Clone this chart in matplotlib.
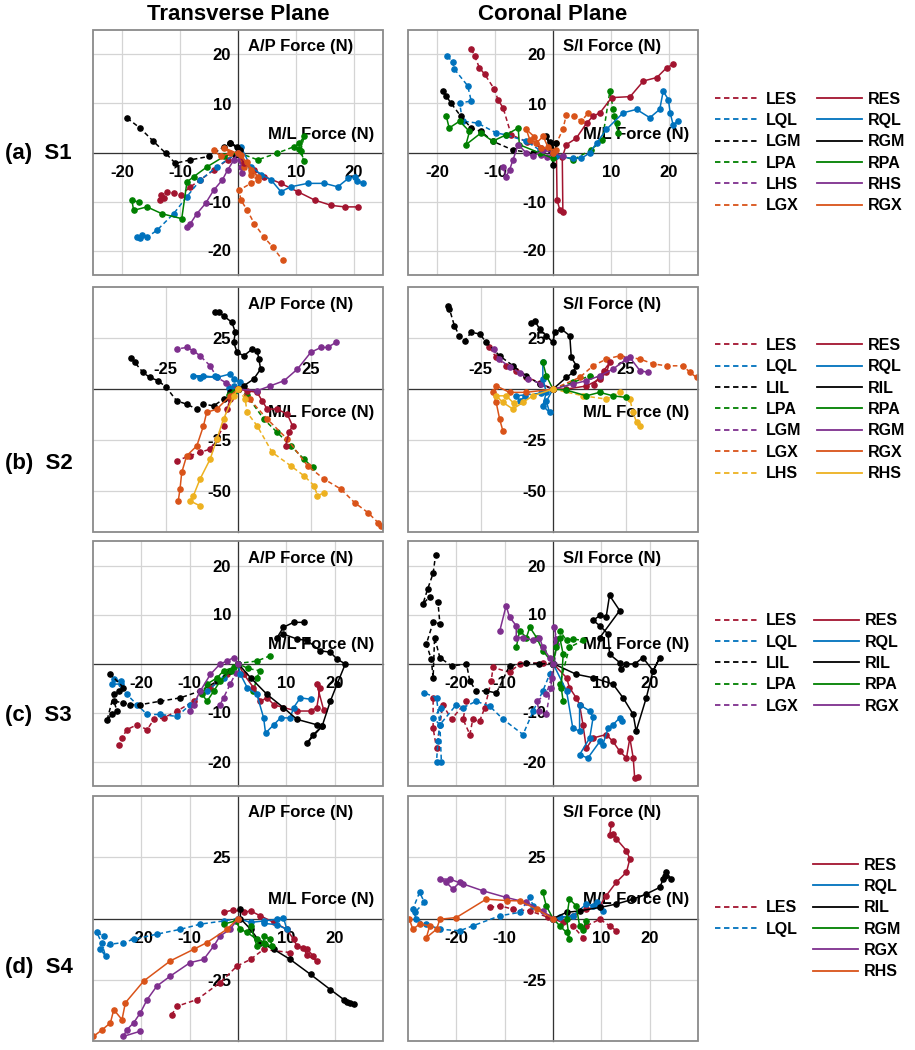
import matplotlib.pyplot as plt
from matplotlib.lines import Line2D
from matplotlib.patches import Rectangle

plt.rcParams['font.family'] = ['Liberation Sans', 'DejaVu Sans']
plt.rcParams['font.weight'] = 'bold'
plt.rcParams['axes.unicode_minus'] = False

RED = '#A2142F'
BLUE = '#0072BD'
BLACK = '#000000'
GREEN = '#008000'
PURPLE = '#7E2F8E'
ORANGE = '#D95319'
YELLOW = '#EDB120'

# ---------------- S1 transverse (M/L vs A/P)
s1t_les = [(0, 0), (-1.8, -1.5), (-4.2, -3.6), (-6.5, -5.6), (-8.2, -7), (-9.9, -8.7), (-11, -8.3), (-12.3, -8), (-13.4, -9.7), (-12.8, -9.2), (-13.2, -8.6)]
s1t_res = [(0, 0), (1, -2.2), (2.8, -3.6), (4.5, -4.9), (7.4, -6.3), (10.3, -8), (13.2, -9.7), (16.1, -10.8), (18.4, -11.1), (20.7, -11.1)]
s1t_lql = [(0, 0), (-3.6, -2.9), (-6.5, -5.6), (-8.8, -9), (-11.1, -12.5), (-14, -15.9), (-15.7, -17.3), (-16.5, -16.8), (-17.5, -17.3), (-16.9, -17.5)]
s1t_rql = [(0, 0), (0.5, 1.2), (2.2, -2.9), (4, -4.5), (5.7, -5.6), (7.4, -8), (9.1, -7), (12, -6.3), (14.9, -6.3), (17.2, -7), (19, -5.3), (20.1, -4.9), (20.6, -5.8), (21.6, -6.3)]
s1t_lgm = [(0, 1), (-1.3, 1.9), (-2.4, 1.2), (-5, -0.8), (-8.2, -1.5), (-10.8, -2.2), (-12.5, -0.1), (-14.6, 2.3), (-16.9, 5), (-19.2, 7.1)]
s1t_rgm = [(0, 0), (-0.1, 1.2), (-1.3, 1.9), (0.3, 0.6), (-0.5, -0.5)]
s1t_lpa = [(0, 0), (3.4, -1.5), (6.8, -0.1), (9.7, 1.2), (10.6, 1.9), (11.4, 3.3), (10.8, 0.4), (11.4, -1.8), (10.5, 0.8)]
s1t_rpa = [(0, 0), (-2.4, -0.8), (-5.3, -2.9), (-7.6, -4.9), (-8.8, -6), (-9.7, -13.5), (-13.1, -12.5), (-15.7, -11.1), (-18, -11.8), (-18.3, -9.7), (-17, -10.2)]
s1t_lhs = [(0, 0), (0.3, -1.5), (0.5, -2.9), (0.75, -4.2)]
s1t_rhs = [(0, 0), (-0.7, -1.5), (-1.8, -3.6), (-2.7, -5.6), (-4.2, -7.7), (-5.6, -10.4), (-7.1, -12.5), (-8.2, -14.5), (-8.8, -15.2)]
s1t_lgx = [(0, 0), (1, -2.9), (2.2, -4.5), (3.4, -5.6), (2.2, -6.3), (0.2, -7.7), (0.5, -9.7), (1.6, -11.8), (2.8, -14.5), (4.5, -17.3), (6, -19.3), (7.7, -22)]
s1t_rgx = [(-4.2, 0.5), (-3, -0.8), (-1.3, -0.1), (-2.5, 1), (0.5, -0.5), (2.2, -3.6), (3.4, -4.9), (1.5, -2), (0, 0)]

# ---------------- S1 coronal (M/L vs S/I)
s1c_les = [(-14.1, 21.1), (-13.5, 19.7), (-12.7, 17.3), (-11.8, 16), (-10.1, 12.9), (-9.5, 10.8), (-8.6, 9.1), (-7.2, 3.6), (-4.5, 2.2), (-2, 1), (0, 0)]
s1c_res = [(0, 0), (0.6, -0.8), (0.7, -9.7), (1.2, -11.8), (1.7, -12.1), (1.6, -1), (2.3, 1.6), (4, 2.9), (5.8, 6), (6.9, 7.4), (8.1, 8.1), (10.1, 11.2), (13.3, 11.4), (15.6, 14.6), (17.9, 15.3), (19.6, 17.3), (20.7, 18)]
s1c_lql = [(-18.2, 19.7), (-17.3, 18.4), (-17, 17), (-14.7, 13.6), (-14.1, 10.5), (-16.1, 10.1), (-15.6, 6.4), (-13, 6), (-9.8, 4), (-8.1, 3.6), (-4.6, 2.3), (-2.3, 0.5), (0, 0)]
s1c_rql = [(0, 0), (0.6, -0.8), (3.5, -1.2), (4.9, -1.2), (6.3, -0.1), (7.5, 1.9), (9.2, 4.7), (12.1, 8.1), (14.4, 8.8), (16.7, 7.1), (18.4, 8.8), (19, 12.5), (19.9, 10.8), (20.2, 8.1), (20.7, 5.7), (21.6, 6.4)]
s1c_lgm = [(-19, 12.5), (-18.4, 11.5), (-17.6, 10.1), (-15.9, 7.4), (-14.1, 5), (-12.4, 4.3), (-10.4, 2.3), (-6.9, 0.5), (-3.5, -0.1), (0, 0)]
s1c_rgm = [(0, 0), (-1.2, 3.3), (-0.6, 2.2), (-0.3, 0.8), (0, -2.5), (0.6, 1.9), (-0.5, 1.2)]
s1c_lpa = [(0, 0), (3.5, -1.5), (6.5, 0.5), (8.5, 2.5), (9.8, 12.5), (10.4, 8.8), (11, 6), (11.2, 4), (10.5, 7.5)]
s1c_rpa = [(-18.4, 7.4), (-17.9, 5), (-16.1, 6.4), (-14.4, 4.3), (-15, 1.6), (-12.4, 4), (-10.4, 2.3), (-8.1, 3.6), (-6, 5), (-5.8, 1.6), (-2.3, -0.1), (0, -1.2)]
s1c_lhs = [(0, 0), (-1, -1), (-2, -0.5)]
s1c_rhs = [(1.7, -0.8), (0, 0), (-1.7, 0.5), (-3.5, -0.8), (-4.6, -0.1), (-6, 1.6), (-6.9, -1.5), (-7.5, -3.6), (-8.1, -4.9), (-8.6, -2.9)]
s1c_lgx = [(0, 0), (0.6, 1.9), (1.7, 4.7), (2.3, 7.7), (3.7, 7.4), (4.9, 6.4), (6.1, 8.1)]
s1c_rgx = [(0, 0), (-0.9, 1.2), (-1.7, 3.3), (-2.9, 1.9), (-4, 2.6), (-4.6, 4.7), (-3.2, 3.2), (-2, 1), (0.6, 0.5)]

# ---------------- S2 transverse
s2t_les = [(0, 0), (-2.7, -4.9), (-3.8, -9.8), (-5, -18), (-7.3, -24.5), (-9.6, -29.4), (-13.1, -31), (-16.6, -32.7), (-21.2, -35.1)]
s2t_res = [(0, 0), (3.1, -0.8), (6.6, -1.6), (8.3, -5.7), (10.1, -9.8), (13.5, -9.8), (17, -12.3), (18.8, -18), (17.6, -21.2), (16.4, -27.8)]
s2t_lql = [(0, 0), (-1.5, 1.5), (-3, 0.5), (-1, -1)]
s2t_rql = [(0, 0), (0.8, 3.3), (-1.5, 4.9), (-2.7, 7.4), (-7.3, 5.7), (-11.9, 6.5), (-15.4, 6.5), (-13, 5.5), (-8, 6.3)]
s2t_lil = [(0, 0), (-2.7, -1.6), (-5, -4.9), (-8.4, -8.2), (-11.9, -7.4), (-14.2, -9.8), (-17.7, -7.4), (-21.2, -5.7), (-24.7, 0.8), (-27.5, 4.1), (-30.4, 5.7), (-32.8, 8.2), (-35.6, 13.1), (-36.8, 15)]
s2t_ril = [(0, 0), (2, 1.6), (5.4, 4.9), (7.8, 9.8), (7.2, 14.7), (6.6, 18.8), (4.9, 19.6), (2, 16.3), (-0.3, 18), (-1.5, 22.9), (-0.9, 27.8), (-2.1, 32.7), (-5, 35.9), (-6.7, 37.6), (-7.9, 37.6)]
s2t_lpa = [(0, 0), (3, -3), (8.9, -14.7), (13.5, -21.2), (18.2, -27.8), (22.8, -34.3), (25.7, -38.4)]
s2t_rpa = [(0, 0), (-1.5, -1.5), (-3, -3), (-2, -2.5)]
s2t_lgm = [(0, 0), (-4, 3), (-7.3, 5.7), (-9.6, 11.4), (-13.1, 16.3), (-15.4, 18.8), (-17.7, 20.4), (-21.2, 19.6)]
s2t_rgm = [(0, 0), (6.6, -0.8), (11.2, 1.6), (15.9, 4.1), (20.5, 9.8), (25.1, 18), (28.6, 20.4), (30.9, 20.4), (33.8, 22.9)]
s2t_lgx = [(0, 0), (4, -5), (10.1, -14.7), (17, -24.5), (24, -37.6), (29.7, -44.1), (35.5, -49), (40.2, -55.6), (44.8, -60.5), (48.3, -65.4), (49.4, -67)]
s2t_rgx = [(0, 0), (-2.7, -3.3), (-7.3, -9.8), (-10.8, -11.4), (-11.9, -18), (-14.2, -27.8), (-17.7, -32.7), (-19.4, -40.8), (-20, -49), (-20.6, -54.7)]
s2t_lhs = [(0, 0), (2.5, -4.9), (3.1, -11.4), (6.6, -18), (11.8, -31), (18.2, -37.6), (22.8, -42.5), (26.3, -47.4), (27.4, -52.3), (29.7, -50.7)]
s2t_rhs = [(0, 0), (-1.5, -3.3), (-5, -14.7), (-7.3, -24.5), (-9.6, -34.3), (-13.1, -44.1), (-15.4, -52.3), (-16.6, -54.7), (-13.1, -57.2)]

# ---------------- S2 coronal
s2c_les = [(-21.9, 20.4), (-19.6, 15.5), (-16.1, 11.4), (-12.7, 9), (-9.2, 6), (-4.6, 3), (0, 0)]
s2c_res = [(0, 0), (4.6, 0), (11.5, 1.5), (16.1, 4.9), (18.4, 8.2), (19.6, 13.1), (17.5, 9), (14, 2)]
s2c_lql = [(0, 0), (-4, -2), (-12.7, -3.3), (-11.5, -5.7), (-9.5, -3.5)]
s2c_rql = [(-3.5, 13.1), (-3.5, 4.9), (-2.3, -1.6), (-3.5, -8.2), (-1.2, -11.4), (-2.3, -6), (0, 0)]
s2c_lil = [(-36.3, 40.8), (-35.7, 39.2), (-34, 31), (-32.3, 26.1), (-30.5, 23.7), (-28.2, 27.8), (-25.3, 27), (-23, 22.9), (-18.4, 16.3), (-13.8, 11.4), (-9.2, 6.5), (-4.6, 2.5), (0, 0)]
s2c_ril = [(0, 0), (4.6, 5.7), (6.9, 8.2), (8.1, 11.4), (6.3, 15.5), (5.8, 26.1), (2.9, 29.4), (0.6, 27.8), (0, 22.9), (-2.3, 26.1), (-4.6, 29.4), (-6.3, 33.5), (-7.5, 32.5)]
s2c_lpa = [(0, 0), (6.9, 3.3), (12.7, 6.5), (16.1, 5.7)]
s2c_rpa = [(-3.5, 13.1), (-2.3, 6.5), (0, 0), (4.6, -0.5), (11.5, -3.3), (16.1, -1.6), (20.7, -3.3), (25.3, -4.1)]
s2c_lgm = [(-20.5, 19.5), (-18.5, 14.5), (-15, 11), (-11.5, 8), (-8.5, 5), (-4, 2.5), (0, 0)]
s2c_rgm = [(0, 0), (6.9, 2.5), (11.5, 4.1), (16.1, 6.5), (20.7, 9.8), (25.3, 14.7), (26.5, 15.5), (30, 9), (32.8, 8.2)]
s2c_lgx = [(0, 0), (9.2, 5.7), (13.8, 11.4), (18.4, 14.7), (23, 16.3), (30, 14.7), (34.6, 12.3), (39.2, 11.4), (44.9, 11.4), (47.2, 8.2), (49.5, 5.7)]
s2c_rgx = [(0, 0), (-9.2, -1.6), (-15, -1.6), (-19.6, 1.6), (-20.7, -1.6), (-19.6, -6.5), (-18.4, -14.7), (-17.3, -20.4)]
s2c_lhs = [(0, 0), (10.4, -3.3), (18.4, -4.9), (23, -1.6), (26.5, -4.9), (27.6, -11.4), (28.8, -16.3), (30, -18)]
s2c_rhs = [(0, 0), (-6.9, -3.3), (-10.4, -6.5), (-13.8, -9.8), (-17.3, -6.5), (-19.6, -3.3), (-16.1, -3.3), (-13.5, -7)]

# ---------------- S3 transverse
s3t_les = [(0, 0), (-2.3, -2.2), (-5.7, -4.9), (-9.2, -7.7), (-12.6, -9.7), (-15.4, -11.1), (-17.4, -11.4), (-18.8, -13.5), (-20.9, -12.5), (-23, -13.5), (-24, -15.2), (-24.7, -16.6)]
s3t_res = [(0, 0), (1.2, -2.2), (3.2, -4.9), (4.6, -7.7), (6, -7), (7.4, -8.4), (9.4, -9), (12.2, -9.7), (15, -9.7), (16.3, -9), (17, -4.9), (16.3, -4.2), (17.7, -9.4)]
s3t_lql = [(0, 0), (-3, -2.9), (-6.4, -5.6), (-9.9, -8.4), (-12.6, -10.8), (-16.1, -10.4), (-18.8, -10.4), (-20.9, -8.4), (-23, -6.3), (-24.3, -4.2), (-26.1, -4.2), (-25.7, -3.2), (-24.3, -3.6)]
s3t_rql = [(0, 0), (0.5, -2.2), (1.9, -4.9), (3.9, -6.3), (5.3, -11.1), (5.7, -14.2), (7.4, -12.5), (8.8, -11.1), (10.8, -11.1), (11.5, -9), (12.9, -7), (15, -7.3)]
s3t_lil = [(0, 0), (-1.6, -1.5), (-4.3, -3.6), (-7.8, -5.6), (-11.9, -7), (-16.1, -7.7), (-20.2, -8.4), (-22.3, -8.4), (-23.7, -8), (-25.7, -7.7), (-25, -9.7), (-26.1, -10.4), (-27.1, -11.6), (-25.7, -6.3), (-24.7, -5.6), (-23.7, -4.9), (-26.4, -2.2)]
s3t_ril = [(0, 0), (2.6, -2.9), (6, -6.3), (9.4, -9), (12.2, -11.4), (16.3, -12.5), (17.4, -12.8), (15.6, -14.5), (14.3, -16.2), (17.4, -12.8), (19.1, -7.7), (20.5, -4.2), (22.2, -0.1), (20.5, 0.9), (19.1, 2.3), (17, 2.6), (14.3, 4.7), (12.2, 5), (9.4, 6), (8.1, 5.3), (9.4, 7.4), (11.5, 8.4), (13.6, 8.4)]
s3t_lpa = [(6.7, 1.6), (3.9, 0.5), (0, 0), (2, -1), (4.6, -1.5), (3.9, -2.9), (3.2, -5.6)]
s3t_rpa = [(0, 0), (-0.9, -0.8), (-3, -1.5), (-4.3, -2.9), (-6.4, -4.2), (-7.4, -6.3), (-6.4, -7.7), (-5, -5.6), (-3.7, -3.6), (-1.5, -1.5)]
s3t_lgx = [(0, 0), (-0.5, -2), (-1.6, -4.2), (-3, -7), (-3.7, -8.4)]
s3t_rgx = [(0, 0), (-0.9, 1.2), (-2.3, 0.5), (-3.7, -0.1), (-5.7, -2.2), (-7.8, -5.6), (-9.2, -8.4), (-9.9, -9.7)]

# ---------------- S3 coronal
s3c_les = [(0, 0), (-2, 0.2), (-6.9, -0.1), (-9, -1.8), (-12.4, -0.8), (-12.8, -3.6), (-14.1, -9), (-15.2, -11.8), (-16.6, -11.4), (-17.2, -14.5), (-18.6, -11.4), (-17.9, -7.7), (-21, -11.4), (-22.8, -8.4), (-24.1, -17.3), (-24.8, -13.2), (-24.8, -7)]
s3c_res = [(0, 0), (2.8, -2.9), (3.4, -4.9), (4.8, -7), (5.5, -8.4), (6.2, -12.5), (6.9, -17.3), (8.3, -15.2), (11, -14.5), (12.4, -15.9), (13.8, -17.9), (15.2, -19.3), (15.9, -15.2), (16.6, -19.3), (16.9, -23.4), (17.6, -23.1)]
s3c_lql = [(0, 0), (-0.7, -2.2), (-2.1, -5.6), (-4.1, -9.7), (-6.2, -14.5), (-10.3, -11.4), (-13.1, -8.7), (-15.9, -7.7), (-18.6, -9), (-20, -8.4), (-23.4, -12.5), (-24.8, -11.1), (-23.1, -9), (-23.8, -15.9), (-24.1, -20), (-23.1, -20), (-23.4, -12.5), (-24.1, -7), (-26.6, -6)]
s3c_rql = [(0, 0), (2.8, -5.6), (4.1, -13.2), (5.5, -13.8), (5.5, -8.4), (7.6, -9.7), (8.3, -11), (7.6, -15.2), (5.5, -18.6), (7.2, -19.3), (9.7, -15.9), (10.3, -16.6), (11.4, -13.2), (12.4, -12.5), (13.8, -11.1), (14.2, -11.8)]
s3c_lil = [(0, 0), (-2.8, -0.1), (-5.5, 0.2), (-9, -0.5), (-11.7, -6), (-13.8, -5.6), (-15.9, -5.6), (-17.2, -3.6), (-17.9, -0.1), (-21, -0.5), (-23.4, 1.2), (-24.5, 5.3), (-24.8, -2.9), (-25.2, 0.9), (-26.2, 4), (-24.8, 8.4), (-23.4, 8.1), (-23.8, 12.5), (-25.5, 13.6), (-26.9, 12.2), (-25.9, 15.3), (-24.8, 18.4), (-24.3, 22.1)]
s3c_ril = [(0, 0), (4.8, -2.2), (8.3, -2.9), (12.4, -4.2), (14.5, -7), (16.6, -10.4), (17.2, -13.8), (19.3, -7), (20.7, -1.5), (22.1, 1.2), (20.7, -1.5), (18.6, 1.2), (16.9, -0.1), (15.2, -0.1), (14.1, -1.2), (13.8, 0.2), (11.7, 1.9), (11.4, 6), (9.7, 7.7), (8.3, 8.8), (9.7, 9.8), (11, 9.5), (11.7, 13.9), (13.8, 10.8), (9.7, 5.3)]
s3c_lpa = [(0, 0), (1.4, 6.7), (2.8, 4.7), (4.1, 5), (6.2, 4.7), (3.4, 3.3), (1.4, -4.2)]
s3c_rpa = [(-7.6, 3.3), (-6.9, 6.7), (-5.5, 5.3), (-4.8, 7.4), (-3.4, 5.3), (-2.1, 2.6), (0, 0), (0.7, 3.3), (1.4, 5.3), (2.1, 1.9), (1.7, -4.9), (2.1, -7.7)]
s3c_lgx = [(0, 0), (-0.3, -2.9), (-1.4, -6.3), (-3.4, -7.7), (-2.8, -9.7), (-1.4, -10.4), (-0.5, -5), (0.3, 0), (0.7, 4), (0.3, 7.4), (0.7, 5)]
s3c_rgx = [(-11, 6.7), (-9.7, 11.8), (-9, 9.5), (-7.6, 7.7), (-7.6, 5.3), (-6.2, 5.3), (-4.1, 4.7), (-2.8, 5.3), (-2.1, 3.3), (-0.7, 1.2), (0, 0)]

# ---------------- S4 transverse
s4t_les = [(10.8, -13.9), (5.3, -12.6), (2.6, -16.7), (-0.2, -19.4), (-3.7, -26.2), (-8.5, -33.1), (-12.6, -35.8), (-13.7, -39.2)]
s4t_res = [(-3, 2.5), (-1, 3.5), (1.2, 2.5), (2.6, 3.1), (4.6, 1.1), (7.4, -1.6), (10.1, -4.4), (11.5, -8.5), (12.2, -11.2), (14.3, -12.6), (15.6, -15.3), (16.3, -17.3), (14.3, -15), (13.5, -12)]
s4t_lql = [(0, 0), (-3, -1), (-7.8, -2.3), (-11.9, -4.4), (-16.8, -6.4), (-21.6, -8.5), (-23.7, -9.8), (-26.4, -10.5), (-28.5, -12.6), (-27.4, -15.3), (-28.2, -10), (-29.2, -5.7), (-27.8, -7.1)]
s4t_rql = [(0, 0), (2.6, -1.6), (5.3, -1), (8.1, -0.3), (9.4, 0.4), (10.1, -4.4), (8, -2.5), (5.3, -2)]
s4t_ril = [(0.5, 3.8), (0.5, 0), (2.6, -4.4), (4.6, -9.8), (7.4, -12.6), (10.8, -16.7), (15, -22.8), (19.1, -29), (21.9, -33.1), (23.2, -34.4), (23.9, -35.1), (22.5, -34)]
s4t_rgm = [(-3, -2.3), (-0.5, -1), (0.5, -4.4), (1.9, -5.7), (3.9, -8.5), (5.3, -9.8), (5.3, -7.1), (6.7, -8.5), (7, -11.2), (5.5, -10.5), (3.9, -11.2), (2.6, -3)]
s4t_rgx = [(0, 0), (-1.6, -4.4), (-3.7, -7.1), (-5, -11.2), (-7.1, -16.7), (-9.9, -18), (-14, -23.5), (-16.8, -27.6), (-18.8, -33.1), (-20.2, -38.5), (-21.6, -42.6), (-23, -45.4), (-23.7, -48.1), (-20.2, -46)]
s4t_rhs = [(0, 0), (-2.3, -4.4), (-6.4, -9.8), (-9.2, -12.6), (-14, -17.3), (-19.5, -25.5), (-23.3, -34.4), (-24, -41.3), (-25.7, -37.2), (-26.4, -42.6), (-28.1, -45.4), (-29.9, -48.1)]

# ---------------- S4 coronal
s4c_les = [(-13.1, 4.5), (-11, 5.2), (-8.3, 3.8), (-4.8, 3.1), (-1, 0.5), (2.1, -1.6), (4.1, -3), (6.2, -7.8), (6.9, -3), (9.7, -0.3), (11.7, -3), (13.1, -5)]
s4c_res = [(0, 0), (4.1, 1.1), (6.9, 3.8), (9.7, 5.2), (11, 9.3), (13.1, 14.8), (15.2, 18.9), (15.9, 24.3), (15.2, 27.7), (13.1, 32.5), (12.4, 34.6), (11.7, 33.9), (12.1, 38.7)]
s4c_lql = [(0, 0), (-4.1, 5.2), (-4.8, 8.6), (-6.9, 2.5), (-11, 1.1), (-16.6, -3), (-19.3, -5), (-23.4, -4.4), (-26.2, -2.3), (-28.3, -0.3), (-29, 3.8), (-27.6, 10.7), (-26.6, 6.6), (-28.6, 2.5)]
s4c_rql = [(0, 0), (1.4, 0.5), (4.1, 1.1), (6.9, 5.9), (8.3, 5.2), (9.7, 4.5), (10.3, 3.1), (9, 6.6)]
s4c_ril = [(0, 0), (2.8, 2.5), (5.5, 3.1), (9.7, 4.5), (13.1, 5.9), (16.6, 7.9), (19.3, 10), (22.1, 12.7), (22.8, 16.1), (23.4, 18.9), (24.5, 16.1), (23.1, 17.5)]
s4c_rgm = [(-2.1, 10.7), (-1.4, 5.2), (0, 0), (1.4, -3), (2.8, -5.7), (3.4, -8.5), (2.8, 0), (3.4, 7.9), (4.8, 5.2), (5.5, -3), (6.2, -4.5), (6.9, -1)]
s4c_rgx = [(0, 0), (-2.1, 3.1), (-5.5, 6.6), (-9.7, 8.6), (-14.5, 11.3), (-18.6, 14.1), (-21.4, 16.1), (-23.4, 16.1), (-22.1, 14.8), (-20.7, 12), (-19.3, 14.8)]
s4c_rhs = [(0, 0), (-3.4, 3.8), (-6.9, 7.2), (-9.5, 7.3), (-13.8, 7.9), (-20, 0.4), (-23.4, -0.3), (-24.1, -4.4), (-26.2, -7.8), (-25.5, -3), (-27.6, -2.3), (-29, -4.4), (-29.7, -0.3)]

# muscle colours per subject
colors_s1 = {'ES': RED, 'QL': BLUE, 'GM': BLACK, 'PA': GREEN, 'HS': PURPLE, 'GX': ORANGE}
colors_s2 = {'ES': RED, 'QL': BLUE, 'IL': BLACK, 'PA': GREEN, 'GM': PURPLE, 'GX': ORANGE, 'HS': YELLOW}
colors_s3 = {'ES': RED, 'QL': BLUE, 'IL': BLACK, 'PA': GREEN, 'GX': PURPLE}
colors_s4 = {'ES': RED, 'QL': BLUE, 'IL': BLACK, 'GM': GREEN, 'GX': PURPLE, 'HS': ORANGE}

legend_s1 = (['LES', 'LQL', 'LGM', 'LPA', 'LHS', 'LGX'], ['RES', 'RQL', 'RGM', 'RPA', 'RHS', 'RGX'])
legend_s2 = (['LES', 'LQL', 'LIL', 'LPA', 'LGM', 'LGX', 'LHS'], ['RES', 'RQL', 'RIL', 'RPA', 'RGM', 'RGX', 'RHS'])
legend_s3 = (['LES', 'LQL', 'LIL', 'LPA', 'LGX'], ['RES', 'RQL', 'RIL', 'RPA', 'RGX'])
legend_s4 = (['', '', 'LES', 'LQL', '', ''], ['RES', 'RQL', 'RIL', 'RGM', 'RGX', 'RHS'])

rows = [
    dict(label='(a)  S1', colors=colors_s1, legend=legend_s1,
         xlim=(-25, 25), ylim=(-25, 25), xt=[-20, -10, 0, 10, 20], yt=[-20, -10, 0, 10, 20],
         top_labels=False, ml_dy=18, label_y=153,
         trans=[('LES', s1t_les), ('LQL', s1t_lql), ('LGM', s1t_lgm), ('LPA', s1t_lpa), ('LHS', s1t_lhs), ('LGX', s1t_lgx),
                ('RES', s1t_res), ('RQL', s1t_rql), ('RGM', s1t_rgm), ('RPA', s1t_rpa), ('RHS', s1t_rhs), ('RGX', s1t_rgx)],
         cor=[('LES', s1c_les), ('LQL', s1c_lql), ('LGM', s1c_lgm), ('LPA', s1c_lpa), ('LHS', s1c_lhs), ('LGX', s1c_lgx),
              ('RES', s1c_res), ('RQL', s1c_rql), ('RGM', s1c_rgm), ('RPA', s1c_rpa), ('RHS', s1c_rhs), ('RGX', s1c_rgx)]),
    dict(label='(b)  S2', colors=colors_s2, legend=legend_s2,
         xlim=(-50, 50), ylim=(-70, 50), xt=[-25, 0, 25], yt=[-50, -25, 0, 25],
         top_labels=True, ml_dy=-23, label_y=463,
         trans=[('LES', s2t_les), ('LQL', s2t_lql), ('LIL', s2t_lil), ('LPA', s2t_lpa), ('LGM', s2t_lgm), ('LGX', s2t_lgx), ('LHS', s2t_lhs),
                ('RES', s2t_res), ('RQL', s2t_rql), ('RIL', s2t_ril), ('RPA', s2t_rpa), ('RGM', s2t_rgm), ('RGX', s2t_rgx), ('RHS', s2t_rhs)],
         cor=[('LES', s2c_les), ('LQL', s2c_lql), ('LIL', s2c_lil), ('LPA', s2c_lpa), ('LGM', s2c_lgm), ('LGX', s2c_lgx), ('LHS', s2c_lhs),
              ('RES', s2c_res), ('RQL', s2c_rql), ('RIL', s2c_ril), ('RPA', s2c_rpa), ('RGM', s2c_rgm), ('RGX', s2c_rgx), ('RHS', s2c_rhs)]),
    dict(label='(c)  S3', colors=colors_s3, legend=legend_s3,
         xlim=(-30, 30), ylim=(-25, 25), xt=[-20, -10, 0, 10, 20], yt=[-20, -10, 0, 10, 20],
         top_labels=False, ml_dy=19, label_y=715,
         trans=[('LES', s3t_les), ('LQL', s3t_lql), ('LIL', s3t_lil), ('LPA', s3t_lpa), ('LGX', s3t_lgx),
                ('RES', s3t_res), ('RQL', s3t_rql), ('RIL', s3t_ril), ('RPA', s3t_rpa), ('RGX', s3t_rgx)],
         cor=[('LES', s3c_les), ('LQL', s3c_lql), ('LIL', s3c_lil), ('LPA', s3c_lpa), ('LGX', s3c_lgx),
              ('RES', s3c_res), ('RQL', s3c_rql), ('RIL', s3c_ril), ('RPA', s3c_rpa), ('RGX', s3c_rgx)]),
    dict(label='(d)  S4', colors=colors_s4, legend=legend_s4,
         xlim=(-30, 30), ylim=(-50, 50), xt=[-20, -10, 0, 10, 20], yt=[-25, 0, 25],
         top_labels=False, ml_dy=19, label_y=967,
         trans=[('LES', s4t_les), ('LQL', s4t_lql),
                ('RES', s4t_res), ('RQL', s4t_rql), ('RIL', s4t_ril), ('RGM', s4t_rgm), ('RGX', s4t_rgx), ('RHS', s4t_rhs)],
         cor=[('LES', s4c_les), ('LQL', s4c_lql),
              ('RES', s4c_res), ('RQL', s4c_rql), ('RIL', s4c_ril), ('RGM', s4c_rgm), ('RGX', s4c_rgx), ('RHS', s4c_rhs)]),
]

W, H = 915, 1050
fig = plt.figure(figsize=(W / 100, H / 100), dpi=100)
col_x = [93, 408]
row_top = [30, 287, 541, 796]
ax_w, ax_h = 290, 245


def setup(ax, row, vert_label):
    ax.set_xlim(row['xlim'])
    ax.set_ylim(row['ylim'])
    ax.set_xticks(row['xt'])
    ax.set_yticks(row['yt'])
    ax.set_xticklabels(['' if v == 0 else str(v) for v in row['xt']])
    ax.set_yticklabels(['' if v == 0 else str(v) for v in row['yt']])
    ax.grid(True, color='#d4d4d4', lw=0.9, zorder=0)
    ax.set_axisbelow(True)
    for s in ax.spines.values():
        s.set_visible(False)
    ax.spines['left'].set_visible(True)
    ax.spines['left'].set_position('zero')
    xs = 'top' if row['top_labels'] else 'bottom'
    ax.spines[xs].set_visible(True)
    ax.spines[xs].set_position('zero')
    for s in ('left', xs):
        ax.spines[s].set_color('#333333')
        ax.spines[s].set_linewidth(0.9)
    if row['top_labels']:
        ax.xaxis.tick_top()
    ax.tick_params(length=0, labelsize=12)
    ax.tick_params(axis='x', pad=9)
    ax.tick_params(axis='y', pad=5)
    ax.add_patch(Rectangle((0, 0), 1, 1, transform=ax.transAxes, fill=False,
                           ec='#8a8a8a', lw=1.3, clip_on=False, zorder=5))
    ax.annotate(vert_label, xy=(0, 1), xycoords=('data', 'axes fraction'),
                xytext=(10, -17), textcoords='offset pixels',
                ha='left', va='center', fontsize=12, fontweight='bold')
    ax.annotate('M/L Force (N)', xy=(1, 0), xycoords=('axes fraction', 'data'),
                xytext=(-9, row['ml_dy']), textcoords='offset pixels',
                ha='right', va='center', fontsize=12, fontweight='bold')


def draw(ax, traces, colors):
    for name, pts in traces:
        xs = [p[0] for p in pts]
        ys = [p[1] for p in pts]
        ls = (0, (3, 2)) if name[0] == 'L' else '-'
        ax.plot(xs, ys, color=colors[name[1:]], ls=ls, lw=1.1,
                marker='.', ms=7.5, zorder=3)


for i, row in enumerate(rows):
    bottom = 1 - (row_top[i] + ax_h) / H
    ax_t = fig.add_axes([col_x[0] / W, bottom, ax_w / W, ax_h / H])
    ax_c = fig.add_axes([col_x[1] / W, bottom, ax_w / W, ax_h / H])
    setup(ax_t, row, 'A/P Force (N)')
    setup(ax_c, row, 'S/I Force (N)')
    draw(ax_t, row['trans'], row['colors'])
    draw(ax_c, row['cor'], row['colors'])

    # legend: dashed left-side column, solid right-side column
    handles, labels = [], []
    for names, ls in ((row['legend'][0], (0, (3, 2))), (row['legend'][1], '-')):
        for n in names:
            if n:
                handles.append(Line2D([], [], color=row['colors'][n[1:]], ls=ls, lw=1.3))
            else:
                handles.append(Line2D([], [], color='none'))
            labels.append(n)
    yc = 1 - (row_top[i] + ax_h / 2) / H
    ax_c.legend(handles, labels, ncol=2, loc='center left',
                bbox_to_anchor=(715 / W, yc), bbox_transform=fig.transFigure,
                frameon=False, borderpad=0, borderaxespad=0,
                handlelength=2.8, handletextpad=0.4, columnspacing=0.95,
                labelspacing=0.4, prop={'size': 11.5, 'weight': 'bold'})

    fig.text(5 / W, 1 - row['label_y'] / H, row['label'], ha='left', va='center',
             fontsize=16, fontweight='bold')

fig.text((col_x[0] + ax_w / 2) / W, 1 - 15 / H, 'Transverse Plane', ha='center', va='center',
         fontsize=16, fontweight='bold')
fig.text((col_x[1] + ax_w / 2) / W, 1 - 15 / H, 'Coronal Plane', ha='center', va='center',
         fontsize=16, fontweight='bold')

fig.savefig('out.png', dpi=100, facecolor='white')
